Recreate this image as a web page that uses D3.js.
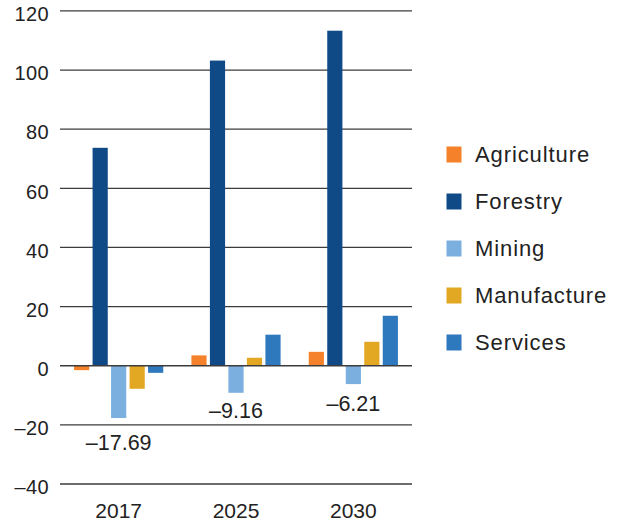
<!DOCTYPE html>
<html>
<head>
<meta charset="utf-8">
<script src="https://cdn.jsdelivr.net/npm/d3@7/dist/d3.min.js"></script>
<style>
  html, body { margin: 0; padding: 0; background: #fff; }
  svg { display: block; font-family: "Liberation Sans", Arial, Helvetica, sans-serif; }
</style>
</head>
<body>
<svg id="chart" width="623" height="527"></svg>
<script>
// ---- Data ----
const years = ["2017", "2025", "2030"];
const seriesNames = ["Agriculture", "Forestry", "Mining", "Manufacture", "Services"];
const agriculture = [-1.5, 3.5, 4.7];
const forestry = [73.7, 103.2, 113.3];
const mining = [-17.69, -9.16, -6.21];
const manufacture = [-7.8, 2.7, 8.1];
const services = [-2.4, 10.5, 16.9];
const miningLabels = ["\u201317.69", "\u20139.16", "\u20136.21"];
const yTicks = [120, 100, 80, 60, 40, 20, 0, -20, -40];
const yTickLabels = ["120", "100", "80", "60", "40", "20", "0", "\u201320", "\u201340"];

// ---- Styles ----
const colors = ["#F5822A", "#0F4A87", "#7BAFE0", "#E3A823", "#2E78BE"];
const labelOffsets = [32, 25, 27];
const textColor = "#222";
const gridColor = "#3c3c3c";

const seriesValues = [agriculture, forestry, mining, manufacture, services];
const table = years.map((yr, i) => ({
  year: yr,
  values: seriesNames.map((s, j) => ({ key: s, value: seriesValues[j][i], color: colors[j] }))
}));

const svg = d3.select("#chart");
const left = 60, right = 412;

const y = d3.scaleLinear().domain([-40, 120]).range([484, 10.9]);
const x0 = d3.scaleBand().domain(years).range([left, right]);
const bw = x0.bandwidth();
const x1 = d3.scaleBand().domain(seriesNames).range([bw * 0.12, bw * 0.88]).paddingInner(0.18);

// Gridlines
svg.append("g").selectAll("line")
  .data(yTicks.filter(t => t !== 0))
  .join("line")
  .attr("x1", left).attr("x2", right)
  .attr("y1", d => y(d)).attr("y2", d => y(d))
  .attr("stroke", gridColor).attr("stroke-width", 1.3);

// Y tick labels
svg.append("g").selectAll("text")
  .data(yTicks)
  .join("text")
  .attr("x", 49)
  .attr("y", d => y(d) + 10.3)
  .attr("text-anchor", "end")
  .attr("font-size", 20)
  .attr("letter-spacing", 0.4)
  .attr("fill", textColor)
  .text((d, i) => yTickLabels[i]);

// Bars
const groups = svg.append("g").selectAll("g")
  .data(table)
  .join("g")
  .attr("transform", d => `translate(${x0(d.year)},0)`);

groups.selectAll("rect")
  .data(d => d.values)
  .join("rect")
  .attr("x", d => x1(d.key))
  .attr("width", x1.bandwidth())
  .attr("y", d => y(Math.max(0, d.value)))
  .attr("height", d => Math.abs(y(d.value) - y(0)))
  .attr("fill", d => d.color);

// Zero line on top
svg.append("line")
  .attr("x1", left).attr("x2", right)
  .attr("y1", y(0)).attr("y2", y(0))
  .attr("stroke", gridColor).attr("stroke-width", 1.3);

// Mining value labels
svg.append("g").selectAll("text")
  .data(years)
  .join("text")
  .attr("x", d => x0(d) + bw / 2)
  .attr("y", (d, i) => y(mining[i]) + labelOffsets[i])
  .attr("text-anchor", "middle")
  .attr("font-size", 21.5)
  .attr("fill", textColor)
  .text((d, i) => miningLabels[i]);

// X category labels
svg.append("g").selectAll("text")
  .data(years)
  .join("text")
  .attr("x", d => x0(d) + bw / 2)
  .attr("y", 518)
  .attr("text-anchor", "middle")
  .attr("font-size", 21)
  .attr("fill", textColor)
  .text(d => d);

// Legend
const legend = svg.append("g").selectAll("g")
  .data(seriesNames)
  .join("g")
  .attr("transform", (d, i) => `translate(446.5, ${146.5 + i * 47})`);
legend.append("rect")
  .attr("width", 15).attr("height", 16)
  .attr("fill", (d, i) => colors[i]);
legend.append("text")
  .attr("x", 28.5).attr("y", 15.3)
  .attr("font-size", 22)
  .attr("letter-spacing", 0.9)
  .attr("fill", textColor)
  .text(d => d);
</script>
</body>
</html>
